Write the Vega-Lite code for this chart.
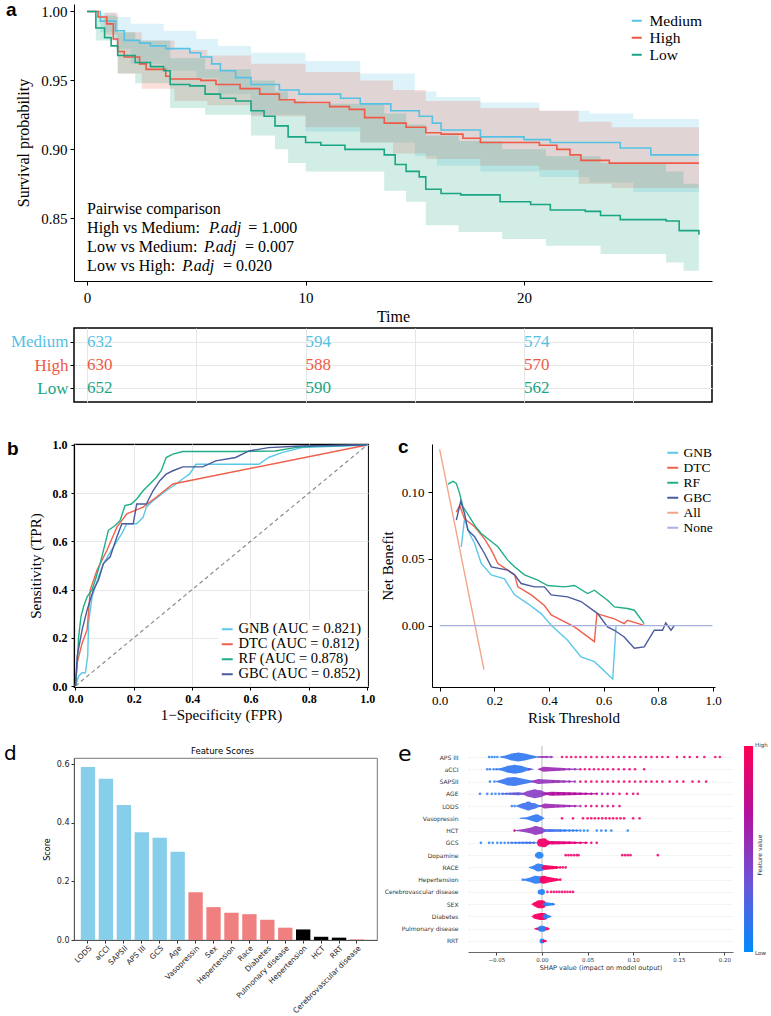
{
  "$schema": "https://vega.github.io/schema/vega-lite/v6.json",
  "padding": {"left": 3, "top": 0, "right": 0, "bottom": 0},
  "spacing": 0,
  "resolve": {"scale": {"color": "independent", "size": "independent"}, "legend": {"color": "independent", "size": "independent"}},
  "config": {
    "view": {"stroke": null},
    "axis": {"grid": false, "domainColor": "black", "tickColor": "black", "labelColor": "black", "titleColor": "black", "titleFontWeight": "normal", "labelFlush": false, "labelOverlap": false},
    "legend": {"labelOverlap": false}
  },
  "datasets": {
    "km": [
      {"grp": "Medium", "t": 0, "s": 1}, {"grp": "Medium", "t": 0.6, "s": 0.993}, {"grp": "Medium", "t": 1.3, "s": 0.986}, {"grp": "Medium", "t": 1.7, "s": 0.979},
      {"grp": "Medium", "t": 2.4, "s": 0.977}, {"grp": "Medium", "t": 2.9, "s": 0.975}, {"grp": "Medium", "t": 3.6, "s": 0.973}, {"grp": "Medium", "t": 4.7, "s": 0.97},
      {"grp": "Medium", "t": 5.2, "s": 0.967}, {"grp": "Medium", "t": 5.7, "s": 0.962}, {"grp": "Medium", "t": 6.1, "s": 0.957}, {"grp": "Medium", "t": 6.8, "s": 0.952},
      {"grp": "Medium", "t": 7.5, "s": 0.947}, {"grp": "Medium", "t": 8.8, "s": 0.943}, {"grp": "Medium", "t": 9.7, "s": 0.94}, {"grp": "Medium", "t": 11.6, "s": 0.937},
      {"grp": "Medium", "t": 12.5, "s": 0.933}, {"grp": "Medium", "t": 13.9, "s": 0.928}, {"grp": "Medium", "t": 15.2, "s": 0.924}, {"grp": "Medium", "t": 15.8, "s": 0.919},
      {"grp": "Medium", "t": 16.2, "s": 0.914}, {"grp": "Medium", "t": 18, "s": 0.909}, {"grp": "Medium", "t": 20, "s": 0.907}, {"grp": "Medium", "t": 21.2, "s": 0.905},
      {"grp": "Medium", "t": 24.4, "s": 0.901}, {"grp": "Medium", "t": 25.8, "s": 0.896}, {"grp": "Medium", "t": 28, "s": 0.896},
      {"grp": "High", "t": 0, "s": 1}, {"grp": "High", "t": 0.5, "s": 0.996}, {"grp": "High", "t": 0.9, "s": 0.991}, {"grp": "High", "t": 1.2, "s": 0.98},
      {"grp": "High", "t": 1.4, "s": 0.971}, {"grp": "High", "t": 1.7, "s": 0.967}, {"grp": "High", "t": 2.4, "s": 0.962}, {"grp": "High", "t": 2.7, "s": 0.958},
      {"grp": "High", "t": 3.6, "s": 0.953}, {"grp": "High", "t": 3.8, "s": 0.951}, {"grp": "High", "t": 5.2, "s": 0.95}, {"grp": "High", "t": 5.9, "s": 0.947},
      {"grp": "High", "t": 7, "s": 0.944}, {"grp": "High", "t": 7.9, "s": 0.94}, {"grp": "High", "t": 8.8, "s": 0.936}, {"grp": "High", "t": 9.5, "s": 0.934},
      {"grp": "High", "t": 11.1, "s": 0.931}, {"grp": "High", "t": 12, "s": 0.929}, {"grp": "High", "t": 12.7, "s": 0.923}, {"grp": "High", "t": 13.6, "s": 0.919},
      {"grp": "High", "t": 14.6, "s": 0.916}, {"grp": "High", "t": 15.5, "s": 0.912}, {"grp": "High", "t": 16.2, "s": 0.911}, {"grp": "High", "t": 17.2, "s": 0.908},
      {"grp": "High", "t": 18, "s": 0.905}, {"grp": "High", "t": 20.7, "s": 0.903}, {"grp": "High", "t": 21.5, "s": 0.9}, {"grp": "High", "t": 22.1, "s": 0.896},
      {"grp": "High", "t": 22.6, "s": 0.892}, {"grp": "High", "t": 23.9, "s": 0.89}, {"grp": "High", "t": 28, "s": 0.89},
      {"grp": "Low", "t": 0, "s": 1}, {"grp": "Low", "t": 0.4, "s": 0.988}, {"grp": "Low", "t": 0.8, "s": 0.981}, {"grp": "Low", "t": 1.1, "s": 0.975},
      {"grp": "Low", "t": 1.4, "s": 0.968}, {"grp": "Low", "t": 2.2, "s": 0.963}, {"grp": "Low", "t": 2.9, "s": 0.96}, {"grp": "Low", "t": 3.5, "s": 0.957},
      {"grp": "Low", "t": 3.8, "s": 0.947}, {"grp": "Low", "t": 4.7, "s": 0.946}, {"grp": "Low", "t": 5.4, "s": 0.94}, {"grp": "Low", "t": 6.1, "s": 0.937},
      {"grp": "Low", "t": 6.8, "s": 0.935}, {"grp": "Low", "t": 7.5, "s": 0.928}, {"grp": "Low", "t": 8.1, "s": 0.924}, {"grp": "Low", "t": 8.6, "s": 0.917},
      {"grp": "Low", "t": 9.2, "s": 0.909}, {"grp": "Low", "t": 10, "s": 0.905}, {"grp": "Low", "t": 10.7, "s": 0.903}, {"grp": "Low", "t": 11.8, "s": 0.9},
      {"grp": "Low", "t": 13.6, "s": 0.896}, {"grp": "Low", "t": 14.1, "s": 0.889}, {"grp": "Low", "t": 14.6, "s": 0.884}, {"grp": "Low", "t": 15.2, "s": 0.88},
      {"grp": "Low", "t": 15.5, "s": 0.871}, {"grp": "Low", "t": 16.2, "s": 0.868}, {"grp": "Low", "t": 17.1, "s": 0.867}, {"grp": "Low", "t": 18.9, "s": 0.862},
      {"grp": "Low", "t": 20.3, "s": 0.86}, {"grp": "Low", "t": 21.2, "s": 0.856}, {"grp": "Low", "t": 22.8, "s": 0.855}, {"grp": "Low", "t": 23.5, "s": 0.852},
      {"grp": "Low", "t": 24.4, "s": 0.849}, {"grp": "Low", "t": 26.5, "s": 0.848}, {"grp": "Low", "t": 27.1, "s": 0.841}, {"grp": "Low", "t": 28, "s": 0.838}
    ],
    "kmci": [
      {"grp": "Medium", "t": 0, "lo": 1, "hi": 1}, {"grp": "Medium", "t": 0.6, "lo": 0.985, "hi": 0.999}, {"grp": "Medium", "t": 1.3, "lo": 0.973, "hi": 0.996},
      {"grp": "Medium", "t": 2, "lo": 0.962, "hi": 0.991}, {"grp": "Medium", "t": 3.5, "lo": 0.957, "hi": 0.986}, {"grp": "Medium", "t": 5, "lo": 0.952, "hi": 0.98},
      {"grp": "Medium", "t": 6, "lo": 0.94, "hi": 0.975}, {"grp": "Medium", "t": 7.5, "lo": 0.925, "hi": 0.97}, {"grp": "Medium", "t": 10, "lo": 0.913, "hi": 0.964},
      {"grp": "Medium", "t": 12.5, "lo": 0.905, "hi": 0.955}, {"grp": "Medium", "t": 15, "lo": 0.895, "hi": 0.942}, {"grp": "Medium", "t": 16, "lo": 0.888, "hi": 0.938},
      {"grp": "Medium", "t": 18, "lo": 0.884, "hi": 0.934}, {"grp": "Medium", "t": 20.7, "lo": 0.88, "hi": 0.928}, {"grp": "Medium", "t": 23, "lo": 0.876, "hi": 0.926},
      {"grp": "Medium", "t": 25, "lo": 0.869, "hi": 0.922}, {"grp": "Medium", "t": 28, "lo": 0.867, "hi": 0.919},
      {"grp": "High", "t": 0, "lo": 1, "hi": 1}, {"grp": "High", "t": 0.8, "lo": 0.983, "hi": 0.999}, {"grp": "High", "t": 1.4, "lo": 0.955, "hi": 0.985},
      {"grp": "High", "t": 2.5, "lo": 0.944, "hi": 0.979}, {"grp": "High", "t": 4, "lo": 0.935, "hi": 0.972}, {"grp": "High", "t": 5.5, "lo": 0.932, "hi": 0.968},
      {"grp": "High", "t": 7.5, "lo": 0.924, "hi": 0.962}, {"grp": "High", "t": 10, "lo": 0.916, "hi": 0.956}, {"grp": "High", "t": 12.5, "lo": 0.905, "hi": 0.95},
      {"grp": "High", "t": 14, "lo": 0.897, "hi": 0.943}, {"grp": "High", "t": 15.5, "lo": 0.893, "hi": 0.935}, {"grp": "High", "t": 18, "lo": 0.888, "hi": 0.93},
      {"grp": "High", "t": 20.7, "lo": 0.885, "hi": 0.928}, {"grp": "High", "t": 22.5, "lo": 0.875, "hi": 0.92}, {"grp": "High", "t": 24, "lo": 0.872, "hi": 0.916},
      {"grp": "High", "t": 28, "lo": 0.869, "hi": 0.914},
      {"grp": "Low", "t": 0, "lo": 1, "hi": 1}, {"grp": "Low", "t": 0.4, "lo": 0.979, "hi": 0.997}, {"grp": "Low", "t": 1.4, "lo": 0.955, "hi": 0.985},
      {"grp": "Low", "t": 2.2, "lo": 0.948, "hi": 0.979}, {"grp": "Low", "t": 3.8, "lo": 0.93, "hi": 0.966}, {"grp": "Low", "t": 5.4, "lo": 0.925, "hi": 0.958},
      {"grp": "Low", "t": 7.5, "lo": 0.91, "hi": 0.95}, {"grp": "Low", "t": 8.6, "lo": 0.9, "hi": 0.942}, {"grp": "Low", "t": 9.2, "lo": 0.89, "hi": 0.935},
      {"grp": "Low", "t": 10, "lo": 0.884, "hi": 0.933}, {"grp": "Low", "t": 13.6, "lo": 0.87, "hi": 0.926}, {"grp": "Low", "t": 14.6, "lo": 0.862, "hi": 0.918},
      {"grp": "Low", "t": 15.5, "lo": 0.845, "hi": 0.91}, {"grp": "Low", "t": 17, "lo": 0.84, "hi": 0.906}, {"grp": "Low", "t": 19, "lo": 0.835, "hi": 0.9},
      {"grp": "Low", "t": 21, "lo": 0.83, "hi": 0.895}, {"grp": "Low", "t": 23.5, "lo": 0.824, "hi": 0.89}, {"grp": "Low", "t": 26.5, "lo": 0.818, "hi": 0.884},
      {"grp": "Low", "t": 27.3, "lo": 0.812, "hi": 0.875}, {"grp": "Low", "t": 28, "lo": 0.81, "hi": 0.868}
    ],
    "risk": [
      {"grp": "Medium", "t": 0, "n": 632}, {"grp": "Medium", "t": 10, "n": 594}, {"grp": "Medium", "t": 20, "n": 574},
      {"grp": "High", "t": 0, "n": 630}, {"grp": "High", "t": 10, "n": 588}, {"grp": "High", "t": 20, "n": 570},
      {"grp": "Low", "t": 0, "n": 652}, {"grp": "Low", "t": 10, "n": 590}, {"grp": "Low", "t": 20, "n": 562}
    ],
    "roc": [
      {"m": "GNB", "fpr": 0, "tpr": 0}, {"m": "GNB", "fpr": 0.011, "tpr": 0.041}, {"m": "GNB", "fpr": 0.023, "tpr": 0.055}, {"m": "GNB", "fpr": 0.034, "tpr": 0.055},
      {"m": "GNB", "fpr": 0.042, "tpr": 0.124}, {"m": "GNB", "fpr": 0.045, "tpr": 0.261}, {"m": "GNB", "fpr": 0.057, "tpr": 0.371}, {"m": "GNB", "fpr": 0.079, "tpr": 0.453},
      {"m": "GNB", "fpr": 0.096, "tpr": 0.508}, {"m": "GNB", "fpr": 0.13, "tpr": 0.577}, {"m": "GNB", "fpr": 0.159, "tpr": 0.632}, {"m": "GNB", "fpr": 0.176, "tpr": 0.673},
      {"m": "GNB", "fpr": 0.21, "tpr": 0.673}, {"m": "GNB", "fpr": 0.232, "tpr": 0.7}, {"m": "GNB", "fpr": 0.243, "tpr": 0.742}, {"m": "GNB", "fpr": 0.266, "tpr": 0.769},
      {"m": "GNB", "fpr": 0.311, "tpr": 0.81}, {"m": "GNB", "fpr": 0.345, "tpr": 0.838}, {"m": "GNB", "fpr": 0.374, "tpr": 0.865}, {"m": "GNB", "fpr": 0.391, "tpr": 0.879},
      {"m": "GNB", "fpr": 0.413, "tpr": 0.92}, {"m": "GNB", "fpr": 0.629, "tpr": 0.92}, {"m": "GNB", "fpr": 0.662, "tpr": 0.948}, {"m": "GNB", "fpr": 0.708, "tpr": 0.968},
      {"m": "GNB", "fpr": 0.776, "tpr": 0.989}, {"m": "GNB", "fpr": 1, "tpr": 1},
      {"m": "DTC", "fpr": 0, "tpr": 0}, {"m": "DTC", "fpr": 0.006, "tpr": 0.096}, {"m": "DTC", "fpr": 0.023, "tpr": 0.179}, {"m": "DTC", "fpr": 0.04, "tpr": 0.234},
      {"m": "DTC", "fpr": 0.051, "tpr": 0.4}, {"m": "DTC", "fpr": 0.074, "tpr": 0.481}, {"m": "DTC", "fpr": 0.108, "tpr": 0.563}, {"m": "DTC", "fpr": 0.142, "tpr": 0.659},
      {"m": "DTC", "fpr": 0.176, "tpr": 0.714}, {"m": "DTC", "fpr": 0.232, "tpr": 0.742}, {"m": "DTC", "fpr": 0.277, "tpr": 0.783}, {"m": "DTC", "fpr": 0.334, "tpr": 0.838},
      {"m": "DTC", "fpr": 1, "tpr": 1},
      {"m": "RF", "fpr": 0, "tpr": 0}, {"m": "RF", "fpr": 0.006, "tpr": 0.096}, {"m": "RF", "fpr": 0.011, "tpr": 0.206}, {"m": "RF", "fpr": 0.019, "tpr": 0.288},
      {"m": "RF", "fpr": 0.028, "tpr": 0.33}, {"m": "RF", "fpr": 0.04, "tpr": 0.37}, {"m": "RF", "fpr": 0.057, "tpr": 0.4}, {"m": "RF", "fpr": 0.068, "tpr": 0.44},
      {"m": "RF", "fpr": 0.085, "tpr": 0.51}, {"m": "RF", "fpr": 0.096, "tpr": 0.563}, {"m": "RF", "fpr": 0.113, "tpr": 0.646}, {"m": "RF", "fpr": 0.136, "tpr": 0.666},
      {"m": "RF", "fpr": 0.153, "tpr": 0.687}, {"m": "RF", "fpr": 0.17, "tpr": 0.749}, {"m": "RF", "fpr": 0.192, "tpr": 0.755}, {"m": "RF", "fpr": 0.21, "tpr": 0.776},
      {"m": "RF", "fpr": 0.232, "tpr": 0.81}, {"m": "RF", "fpr": 0.255, "tpr": 0.838}, {"m": "RF", "fpr": 0.277, "tpr": 0.865}, {"m": "RF", "fpr": 0.294, "tpr": 0.893},
      {"m": "RF", "fpr": 0.311, "tpr": 0.948}, {"m": "RF", "fpr": 0.334, "tpr": 0.962}, {"m": "RF", "fpr": 0.368, "tpr": 0.973}, {"m": "RF", "fpr": 0.549, "tpr": 0.973},
      {"m": "RF", "fpr": 0.685, "tpr": 0.975}, {"m": "RF", "fpr": 0.753, "tpr": 0.989}, {"m": "RF", "fpr": 0.82, "tpr": 0.996}, {"m": "RF", "fpr": 1, "tpr": 1},
      {"m": "GBC", "fpr": 0, "tpr": 0}, {"m": "GBC", "fpr": 0.006, "tpr": 0.124}, {"m": "GBC", "fpr": 0.023, "tpr": 0.234}, {"m": "GBC", "fpr": 0.04, "tpr": 0.316},
      {"m": "GBC", "fpr": 0.062, "tpr": 0.4}, {"m": "GBC", "fpr": 0.079, "tpr": 0.44}, {"m": "GBC", "fpr": 0.096, "tpr": 0.508}, {"m": "GBC", "fpr": 0.119, "tpr": 0.536},
      {"m": "GBC", "fpr": 0.142, "tpr": 0.618}, {"m": "GBC", "fpr": 0.159, "tpr": 0.673}, {"m": "GBC", "fpr": 0.198, "tpr": 0.673}, {"m": "GBC", "fpr": 0.21, "tpr": 0.755},
      {"m": "GBC", "fpr": 0.243, "tpr": 0.755}, {"m": "GBC", "fpr": 0.266, "tpr": 0.81}, {"m": "GBC", "fpr": 0.289, "tpr": 0.852}, {"m": "GBC", "fpr": 0.311, "tpr": 0.879},
      {"m": "GBC", "fpr": 0.334, "tpr": 0.893}, {"m": "GBC", "fpr": 0.368, "tpr": 0.909}, {"m": "GBC", "fpr": 0.436, "tpr": 0.909}, {"m": "GBC", "fpr": 0.481, "tpr": 0.934},
      {"m": "GBC", "fpr": 0.549, "tpr": 0.948}, {"m": "GBC", "fpr": 0.595, "tpr": 0.975}, {"m": "GBC", "fpr": 0.662, "tpr": 0.989}, {"m": "GBC", "fpr": 0.776, "tpr": 0.996},
      {"m": "GBC", "fpr": 1, "tpr": 1}
    ],
    "dca": [
      {"m": "GNB", "thr": 0.079, "nb": 0.059}, {"m": "GNB", "thr": 0.091, "nb": 0.08}, {"m": "GNB", "thr": 0.109, "nb": 0.069}, {"m": "GNB", "thr": 0.128, "nb": 0.0615},
      {"m": "GNB", "thr": 0.152, "nb": 0.0465}, {"m": "GNB", "thr": 0.189, "nb": 0.038}, {"m": "GNB", "thr": 0.237, "nb": 0.035}, {"m": "GNB", "thr": 0.274, "nb": 0.023},
      {"m": "GNB", "thr": 0.322, "nb": 0.0165}, {"m": "GNB", "thr": 0.371, "nb": 0.009}, {"m": "GNB", "thr": 0.408, "nb": 0.0003}, {"m": "GNB", "thr": 0.468, "nb": -0.011},
      {"m": "GNB", "thr": 0.517, "nb": -0.0235}, {"m": "GNB", "thr": 0.566, "nb": -0.027}, {"m": "GNB", "thr": 0.633, "nb": -0.04}, {"m": "GNB", "thr": 0.645, "nb": -0.0005},
      {"m": "DTC", "thr": 0.061, "nb": 0.085}, {"m": "DTC", "thr": 0.073, "nb": 0.09}, {"m": "DTC", "thr": 0.091, "nb": 0.08}, {"m": "DTC", "thr": 0.128, "nb": 0.074},
      {"m": "DTC", "thr": 0.164, "nb": 0.065}, {"m": "DTC", "thr": 0.189, "nb": 0.0565}, {"m": "DTC", "thr": 0.213, "nb": 0.0465}, {"m": "DTC", "thr": 0.249, "nb": 0.0415},
      {"m": "DTC", "thr": 0.274, "nb": 0.038}, {"m": "DTC", "thr": 0.286, "nb": 0.029}, {"m": "DTC", "thr": 0.335, "nb": 0.023}, {"m": "DTC", "thr": 0.383, "nb": 0.015},
      {"m": "DTC", "thr": 0.408, "nb": 0.008}, {"m": "DTC", "thr": 0.493, "nb": -0.001}, {"m": "DTC", "thr": 0.566, "nb": -0.012}, {"m": "DTC", "thr": 0.575, "nb": 0.009},
      {"m": "DTC", "thr": 0.639, "nb": 0.005}, {"m": "DTC", "thr": 0.675, "nb": 0.0015}, {"m": "DTC", "thr": 0.687, "nb": 0.004}, {"m": "DTC", "thr": 0.748, "nb": 0.0002},
      {"m": "RF", "thr": 0.03, "nb": 0.106}, {"m": "RF", "thr": 0.049, "nb": 0.108}, {"m": "RF", "thr": 0.061, "nb": 0.1065}, {"m": "RF", "thr": 0.073, "nb": 0.099},
      {"m": "RF", "thr": 0.085, "nb": 0.089}, {"m": "RF", "thr": 0.103, "nb": 0.0835}, {"m": "RF", "thr": 0.128, "nb": 0.075}, {"m": "RF", "thr": 0.152, "nb": 0.069},
      {"m": "RF", "thr": 0.176, "nb": 0.065}, {"m": "RF", "thr": 0.213, "nb": 0.059}, {"m": "RF", "thr": 0.249, "nb": 0.049}, {"m": "RF", "thr": 0.274, "nb": 0.044},
      {"m": "RF", "thr": 0.31, "nb": 0.038}, {"m": "RF", "thr": 0.359, "nb": 0.034}, {"m": "RF", "thr": 0.395, "nb": 0.03}, {"m": "RF", "thr": 0.456, "nb": 0.029},
      {"m": "RF", "thr": 0.493, "nb": 0.03}, {"m": "RF", "thr": 0.541, "nb": 0.024}, {"m": "RF", "thr": 0.566, "nb": 0.0265}, {"m": "RF", "thr": 0.614, "nb": 0.019},
      {"m": "RF", "thr": 0.639, "nb": 0.014}, {"m": "RF", "thr": 0.687, "nb": 0.0128}, {"m": "RF", "thr": 0.712, "nb": 0.0115}, {"m": "RF", "thr": 0.748, "nb": 0.0015},
      {"m": "GBC", "thr": 0.061, "nb": 0.079}, {"m": "GBC", "thr": 0.077, "nb": 0.093}, {"m": "GBC", "thr": 0.091, "nb": 0.084}, {"m": "GBC", "thr": 0.103, "nb": 0.0715},
      {"m": "GBC", "thr": 0.128, "nb": 0.0665}, {"m": "GBC", "thr": 0.164, "nb": 0.054}, {"m": "GBC", "thr": 0.189, "nb": 0.044}, {"m": "GBC", "thr": 0.249, "nb": 0.0415},
      {"m": "GBC", "thr": 0.274, "nb": 0.038}, {"m": "GBC", "thr": 0.298, "nb": 0.0315}, {"m": "GBC", "thr": 0.347, "nb": 0.029}, {"m": "GBC", "thr": 0.383, "nb": 0.029},
      {"m": "GBC", "thr": 0.408, "nb": 0.023}, {"m": "GBC", "thr": 0.468, "nb": 0.0215}, {"m": "GBC", "thr": 0.517, "nb": 0.018}, {"m": "GBC", "thr": 0.578, "nb": 0.009},
      {"m": "GBC", "thr": 0.614, "nb": -0.001}, {"m": "GBC", "thr": 0.639, "nb": -0.0035}, {"m": "GBC", "thr": 0.675, "nb": -0.0085}, {"m": "GBC", "thr": 0.712, "nb": -0.017},
      {"m": "GBC", "thr": 0.748, "nb": -0.016}, {"m": "GBC", "thr": 0.785, "nb": -0.0035}, {"m": "GBC", "thr": 0.815, "nb": -0.0035}, {"m": "GBC", "thr": 0.827, "nb": 0.002},
      {"m": "GBC", "thr": 0.846, "nb": -0.0035}, {"m": "GBC", "thr": 0.858, "nb": 0},
      {"m": "All", "thr": 0, "nb": 0.132}, {"m": "All", "thr": 0.162, "nb": -0.033},
      {"m": "None", "thr": 0, "nb": 0}, {"m": "None", "thr": 0.998, "nb": 0}
    ],
    "scores": [
      {"feature": "LODS", "score": 0.59, "grp": "a"}, {"feature": "aCCI", "score": 0.55, "grp": "a"}, {"feature": "SAPSII", "score": 0.46, "grp": "a"},
      {"feature": "APS III", "score": 0.367, "grp": "a"}, {"feature": "GCS", "score": 0.349, "grp": "a"}, {"feature": "Age", "score": 0.301, "grp": "a"},
      {"feature": "Vasopressin", "score": 0.163, "grp": "b"}, {"feature": "Sex", "score": 0.112, "grp": "b"}, {"feature": "Hepertension", "score": 0.093, "grp": "b"},
      {"feature": "Race", "score": 0.088, "grp": "b"}, {"feature": "Diabetes", "score": 0.069, "grp": "b"}, {"feature": "Pulmonary disease", "score": 0.042, "grp": "b"},
      {"feature": "Hepertension ", "score": 0.036, "grp": "c"}, {"feature": "HCT", "score": 0.011, "grp": "c"}, {"feature": "RRT", "score": 0.008, "grp": "c"},
      {"feature": "Cerebrovascular disease", "score": 0.002, "grp": "b"}
    ],
    "shapcore": [
      {"c": "1a", "f": "APS III", "s": -0.046, "d": 0, "v": 0.1}, {"c": "1a", "f": "APS III", "s": -0.04, "d": 3, "v": 0.1}, {"c": "1a", "f": "APS III", "s": -0.033, "d": 7, "v": 0.1},
      {"c": "1a", "f": "APS III", "s": -0.026, "d": 9, "v": 0.1}, {"c": "1a", "f": "APS III", "s": -0.019, "d": 7, "v": 0.1}, {"c": "1a", "f": "APS III", "s": -0.012, "d": 4, "v": 0.1},
      {"c": "1a", "f": "APS III", "s": -0.006, "d": 1.5, "v": 0.1}, {"c": "1a", "f": "APS III", "s": -0.002, "d": 0, "v": 0.1},
      {"c": "1b", "f": "APS III", "s": -0.004, "d": 0, "v": 0.55}, {"c": "1b", "f": "APS III", "s": 0, "d": 2, "v": 0.55}, {"c": "1b", "f": "APS III", "s": 0.006, "d": 1.5, "v": 0.55}, {"c": "1b", "f": "APS III", "s": 0.012, "d": 0, "v": 0.55},
      {"c": "2a", "f": "aCCI", "s": -0.05, "d": 0, "v": 0.1}, {"c": "2a", "f": "aCCI", "s": -0.044, "d": 3, "v": 0.1}, {"c": "2a", "f": "aCCI", "s": -0.037, "d": 7, "v": 0.1},
      {"c": "2a", "f": "aCCI", "s": -0.03, "d": 9, "v": 0.1}, {"c": "2a", "f": "aCCI", "s": -0.023, "d": 7, "v": 0.1}, {"c": "2a", "f": "aCCI", "s": -0.016, "d": 3, "v": 0.1}, {"c": "2a", "f": "aCCI", "s": -0.01, "d": 0, "v": 0.1},
      {"c": "2b", "f": "aCCI", "s": -0.004, "d": 0, "v": 0.55}, {"c": "2b", "f": "aCCI", "s": 0.002, "d": 5, "v": 0.55}, {"c": "2b", "f": "aCCI", "s": 0.01, "d": 4, "v": 0.55},
      {"c": "2b", "f": "aCCI", "s": 0.02, "d": 3, "v": 0.55}, {"c": "2b", "f": "aCCI", "s": 0.03, "d": 1.5, "v": 0.55}, {"c": "2b", "f": "aCCI", "s": 0.04, "d": 0, "v": 0.55},
      {"c": "3a", "f": "SAPSII", "s": -0.05, "d": 0, "v": 0.12}, {"c": "3a", "f": "SAPSII", "s": -0.044, "d": 4, "v": 0.12}, {"c": "3a", "f": "SAPSII", "s": -0.037, "d": 8, "v": 0.12},
      {"c": "3a", "f": "SAPSII", "s": -0.03, "d": 9, "v": 0.12}, {"c": "3a", "f": "SAPSII", "s": -0.022, "d": 6, "v": 0.12}, {"c": "3a", "f": "SAPSII", "s": -0.014, "d": 3, "v": 0.12}, {"c": "3a", "f": "SAPSII", "s": -0.008, "d": 0, "v": 0.12},
      {"c": "3b", "f": "SAPSII", "s": -0.012, "d": 0, "v": 0.5}, {"c": "3b", "f": "SAPSII", "s": -0.004, "d": 5, "v": 0.5}, {"c": "3b", "f": "SAPSII", "s": 0.004, "d": 4, "v": 0.5},
      {"c": "3b", "f": "SAPSII", "s": 0.015, "d": 3, "v": 0.5}, {"c": "3b", "f": "SAPSII", "s": 0.025, "d": 2, "v": 0.5}, {"c": "3b", "f": "SAPSII", "s": 0.035, "d": 0, "v": 0.5},
      {"c": "4a", "f": "AGE", "s": -0.045, "d": 0, "v": 0.3}, {"c": "4a", "f": "AGE", "s": -0.035, "d": 2, "v": 0.3}, {"c": "4a", "f": "AGE", "s": -0.025, "d": 3, "v": 0.3}, {"c": "4a", "f": "AGE", "s": -0.018, "d": 0, "v": 0.3},
      {"c": "4b", "f": "AGE", "s": -0.022, "d": 0, "v": 0.45}, {"c": "4b", "f": "AGE", "s": -0.015, "d": 6, "v": 0.45}, {"c": "4b", "f": "AGE", "s": -0.008, "d": 9, "v": 0.45},
      {"c": "4b", "f": "AGE", "s": -0.002, "d": 7, "v": 0.45}, {"c": "4b", "f": "AGE", "s": 0.004, "d": 3, "v": 0.45}, {"c": "4b", "f": "AGE", "s": 0.01, "d": 0, "v": 0.45},
      {"c": "4c", "f": "AGE", "s": 0, "d": 0, "v": 0.65}, {"c": "4c", "f": "AGE", "s": 0.01, "d": 4, "v": 0.65}, {"c": "4c", "f": "AGE", "s": 0.02, "d": 3.5, "v": 0.65},
      {"c": "4c", "f": "AGE", "s": 0.03, "d": 3, "v": 0.65}, {"c": "4c", "f": "AGE", "s": 0.045, "d": 2, "v": 0.65}, {"c": "4c", "f": "AGE", "s": 0.06, "d": 0, "v": 0.65},
      {"c": "5a", "f": "LODS", "s": -0.028, "d": 0, "v": 0.15}, {"c": "5a", "f": "LODS", "s": -0.022, "d": 5, "v": 0.15}, {"c": "5a", "f": "LODS", "s": -0.015, "d": 9, "v": 0.15},
      {"c": "5a", "f": "LODS", "s": -0.009, "d": 6, "v": 0.15}, {"c": "5a", "f": "LODS", "s": -0.003, "d": 2, "v": 0.15}, {"c": "5a", "f": "LODS", "s": 0, "d": 0, "v": 0.15},
      {"c": "5b", "f": "LODS", "s": -0.002, "d": 0, "v": 0.55}, {"c": "5b", "f": "LODS", "s": 0.003, "d": 5, "v": 0.55}, {"c": "5b", "f": "LODS", "s": 0.01, "d": 4, "v": 0.55},
      {"c": "5b", "f": "LODS", "s": 0.02, "d": 3, "v": 0.55}, {"c": "5b", "f": "LODS", "s": 0.03, "d": 2, "v": 0.55}, {"c": "5b", "f": "LODS", "s": 0.04, "d": 0, "v": 0.55},
      {"c": "6a", "f": "Vasopressin", "s": -0.024, "d": 0, "v": 0.1}, {"c": "6a", "f": "Vasopressin", "s": -0.017, "d": 2, "v": 0.1}, {"c": "6a", "f": "Vasopressin", "s": -0.01, "d": 6, "v": 0.1},
      {"c": "6a", "f": "Vasopressin", "s": -0.006, "d": 8, "v": 0.1}, {"c": "6a", "f": "Vasopressin", "s": -0.002, "d": 5, "v": 0.1}, {"c": "6a", "f": "Vasopressin", "s": 0.002, "d": 0, "v": 0.1},
      {"c": "7a", "f": "HCT", "s": -0.028, "d": 0, "v": 0.5}, {"c": "7a", "f": "HCT", "s": -0.02, "d": 3, "v": 0.5}, {"c": "7a", "f": "HCT", "s": -0.012, "d": 6, "v": 0.5},
      {"c": "7a", "f": "HCT", "s": -0.007, "d": 9, "v": 0.5}, {"c": "7a", "f": "HCT", "s": -0.002, "d": 7, "v": 0.5}, {"c": "7a", "f": "HCT", "s": 0.003, "d": 3, "v": 0.5}, {"c": "7a", "f": "HCT", "s": 0.008, "d": 0, "v": 0.5},
      {"c": "7b", "f": "HCT", "s": 0, "d": 0, "v": 0.15}, {"c": "7b", "f": "HCT", "s": 0.008, "d": 3, "v": 0.15}, {"c": "7b", "f": "HCT", "s": 0.018, "d": 2.5, "v": 0.15},
      {"c": "7b", "f": "HCT", "s": 0.03, "d": 1.5, "v": 0.15}, {"c": "7b", "f": "HCT", "s": 0.04, "d": 0, "v": 0.15},
      {"c": "8a", "f": "GCS", "s": -0.035, "d": 0, "v": 0.15}, {"c": "8a", "f": "GCS", "s": -0.025, "d": 1.5, "v": 0.15}, {"c": "8a", "f": "GCS", "s": -0.015, "d": 2, "v": 0.15}, {"c": "8a", "f": "GCS", "s": -0.005, "d": 0, "v": 0.15},
      {"c": "8b", "f": "GCS", "s": -0.004, "d": 0, "v": 0.92}, {"c": "8b", "f": "GCS", "s": -0.001, "d": 8, "v": 0.92}, {"c": "8b", "f": "GCS", "s": 0.002, "d": 9, "v": 0.92},
      {"c": "8b", "f": "GCS", "s": 0.006, "d": 5, "v": 0.92}, {"c": "8b", "f": "GCS", "s": 0.01, "d": 0, "v": 0.92},
      {"c": "8c", "f": "GCS", "s": 0.004, "d": 0, "v": 0.85}, {"c": "8c", "f": "GCS", "s": 0.01, "d": 3.5, "v": 0.85}, {"c": "8c", "f": "GCS", "s": 0.02, "d": 3, "v": 0.85},
      {"c": "8c", "f": "GCS", "s": 0.03, "d": 2.5, "v": 0.85}, {"c": "8c", "f": "GCS", "s": 0.04, "d": 1.5, "v": 0.85}, {"c": "8c", "f": "GCS", "s": 0.05, "d": 0, "v": 0.85},
      {"c": "9a", "f": "Dopamine", "s": -0.007, "d": 0, "v": 0.05}, {"c": "9a", "f": "Dopamine", "s": -0.005, "d": 5, "v": 0.05}, {"c": "9a", "f": "Dopamine", "s": -0.003, "d": 7, "v": 0.05},
      {"c": "9a", "f": "Dopamine", "s": -0.001, "d": 5, "v": 0.05}, {"c": "9a", "f": "Dopamine", "s": 0.001, "d": 0, "v": 0.05},
      {"c": "10a", "f": "RACE", "s": -0.014, "d": 0, "v": 0.08}, {"c": "10a", "f": "RACE", "s": -0.009, "d": 4, "v": 0.08}, {"c": "10a", "f": "RACE", "s": -0.004, "d": 8, "v": 0.08},
      {"c": "10a", "f": "RACE", "s": -0.001, "d": 7, "v": 0.08}, {"c": "10a", "f": "RACE", "s": 0.001, "d": 0, "v": 0.08},
      {"c": "10b", "f": "RACE", "s": 0, "d": 0, "v": 0.95}, {"c": "10b", "f": "RACE", "s": 0.003, "d": 5, "v": 0.95}, {"c": "10b", "f": "RACE", "s": 0.008, "d": 4, "v": 0.95},
      {"c": "10b", "f": "RACE", "s": 0.014, "d": 3, "v": 0.95}, {"c": "10b", "f": "RACE", "s": 0.02, "d": 0, "v": 0.95},
      {"c": "11a", "f": "Hepertension", "s": -0.021, "d": 0, "v": 0.08}, {"c": "11a", "f": "Hepertension", "s": -0.014, "d": 4, "v": 0.08}, {"c": "11a", "f": "Hepertension", "s": -0.007, "d": 8, "v": 0.08},
      {"c": "11a", "f": "Hepertension", "s": -0.002, "d": 7, "v": 0.08}, {"c": "11a", "f": "Hepertension", "s": 0.001, "d": 0, "v": 0.08},
      {"c": "11b", "f": "Hepertension", "s": -0.001, "d": 0, "v": 0.95}, {"c": "11b", "f": "Hepertension", "s": 0.002, "d": 8, "v": 0.95}, {"c": "11b", "f": "Hepertension", "s": 0.006, "d": 6, "v": 0.95},
      {"c": "11b", "f": "Hepertension", "s": 0.012, "d": 4, "v": 0.95}, {"c": "11b", "f": "Hepertension", "s": 0.02, "d": 0, "v": 0.95},
      {"c": "12a", "f": "Cerebrovascular disease", "s": -0.004, "d": 0, "v": 0.05}, {"c": "12a", "f": "Cerebrovascular disease", "s": -0.002, "d": 5, "v": 0.05},
      {"c": "12a", "f": "Cerebrovascular disease", "s": 0, "d": 6, "v": 0.05}, {"c": "12a", "f": "Cerebrovascular disease", "s": 0.002, "d": 0, "v": 0.05},
      {"c": "13a", "f": "SEX", "s": -0.011, "d": 0, "v": 0.95}, {"c": "13a", "f": "SEX", "s": -0.007, "d": 5, "v": 0.95}, {"c": "13a", "f": "SEX", "s": -0.003, "d": 8, "v": 0.95},
      {"c": "13a", "f": "SEX", "s": 0, "d": 8, "v": 0.95}, {"c": "13a", "f": "SEX", "s": 0.003, "d": 0, "v": 0.95},
      {"c": "13b", "f": "SEX", "s": 0.001, "d": 0, "v": 0.05}, {"c": "13b", "f": "SEX", "s": 0.004, "d": 4, "v": 0.05}, {"c": "13b", "f": "SEX", "s": 0.009, "d": 3, "v": 0.05}, {"c": "13b", "f": "SEX", "s": 0.014, "d": 0, "v": 0.05},
      {"c": "14a", "f": "Diabetes", "s": -0.011, "d": 0, "v": 0.95}, {"c": "14a", "f": "Diabetes", "s": -0.007, "d": 5, "v": 0.95}, {"c": "14a", "f": "Diabetes", "s": -0.002, "d": 7, "v": 0.95},
      {"c": "14a", "f": "Diabetes", "s": 0.002, "d": 7, "v": 0.95}, {"c": "14a", "f": "Diabetes", "s": 0.004, "d": 0, "v": 0.95},
      {"c": "14b", "f": "Diabetes", "s": 0.001, "d": 0, "v": 0.05}, {"c": "14b", "f": "Diabetes", "s": 0.004, "d": 5, "v": 0.05}, {"c": "14b", "f": "Diabetes", "s": 0.007, "d": 3, "v": 0.05}, {"c": "14b", "f": "Diabetes", "s": 0.01, "d": 0, "v": 0.05},
      {"c": "15a", "f": "Pulmonary disease", "s": -0.008, "d": 0, "v": 0.95}, {"c": "15a", "f": "Pulmonary disease", "s": -0.004, "d": 3, "v": 0.95}, {"c": "15a", "f": "Pulmonary disease", "s": 0.002, "d": 4, "v": 0.95},
      {"c": "15a", "f": "Pulmonary disease", "s": 0.006, "d": 3, "v": 0.95}, {"c": "15a", "f": "Pulmonary disease", "s": 0.008, "d": 0, "v": 0.95},
      {"c": "15b", "f": "Pulmonary disease", "s": -0.003, "d": 0, "v": 0.05}, {"c": "15b", "f": "Pulmonary disease", "s": -0.001, "d": 6, "v": 0.05},
      {"c": "15b", "f": "Pulmonary disease", "s": 0.001, "d": 6, "v": 0.05}, {"c": "15b", "f": "Pulmonary disease", "s": 0.003, "d": 0, "v": 0.05},
      {"c": "16a", "f": "RRT", "s": -0.002, "d": 0, "v": 0.05}, {"c": "16a", "f": "RRT", "s": 0, "d": 5, "v": 0.05}, {"c": "16a", "f": "RRT", "s": 0.002, "d": 0, "v": 0.05},
      {"c": "16b", "f": "RRT", "s": 0, "d": 0, "v": 0.95}, {"c": "16b", "f": "RRT", "s": 0.002, "d": 3, "v": 0.95}, {"c": "16b", "f": "RRT", "s": 0.004, "d": 2, "v": 0.95}, {"c": "16b", "f": "RRT", "s": 0.005, "d": 0, "v": 0.95}
    ],
    "shappts": [
      {"f": "APS III", "s": -0.058, "v": 0.05}, {"f": "APS III", "s": -0.055, "v": 0.05}, {"f": "APS III", "s": -0.052, "v": 0.05}, {"f": "APS III", "s": -0.049, "v": 0.05},
      {"f": "APS III", "s": 0.005, "v": 0.5}, {"f": "APS III", "s": 0.01, "v": 0.5},
      {"f": "APS III", "s": 0.022, "v": 0.9}, {"f": "APS III", "s": 0.027, "v": 0.9}, {"f": "APS III", "s": 0.032, "v": 0.9}, {"f": "APS III", "s": 0.037, "v": 0.9},
      {"f": "APS III", "s": 0.042, "v": 0.9}, {"f": "APS III", "s": 0.048, "v": 0.9}, {"f": "APS III", "s": 0.054, "v": 0.9}, {"f": "APS III", "s": 0.06, "v": 0.9},
      {"f": "APS III", "s": 0.066, "v": 0.9}, {"f": "APS III", "s": 0.072, "v": 0.9}, {"f": "APS III", "s": 0.078, "v": 0.9}, {"f": "APS III", "s": 0.084, "v": 0.9},
      {"f": "APS III", "s": 0.09, "v": 0.9}, {"f": "APS III", "s": 0.096, "v": 0.9}, {"f": "APS III", "s": 0.102, "v": 0.9}, {"f": "APS III", "s": 0.108, "v": 0.9},
      {"f": "APS III", "s": 0.114, "v": 0.9}, {"f": "APS III", "s": 0.12, "v": 0.9}, {"f": "APS III", "s": 0.126, "v": 0.9}, {"f": "APS III", "s": 0.132, "v": 0.9},
      {"f": "APS III", "s": 0.138, "v": 0.9}, {"f": "APS III", "s": 0.148, "v": 0.9}, {"f": "APS III", "s": 0.156, "v": 0.9}, {"f": "APS III", "s": 0.162, "v": 0.9},
      {"f": "APS III", "s": 0.17, "v": 0.9}, {"f": "APS III", "s": 0.178, "v": 0.9}, {"f": "APS III", "s": 0.19, "v": 0.9}, {"f": "APS III", "s": 0.195, "v": 0.9},
      {"f": "aCCI", "s": -0.06, "v": 0.1}, {"f": "aCCI", "s": -0.057, "v": 0.1}, {"f": "aCCI", "s": -0.053, "v": 0.1}, {"f": "aCCI", "s": -0.05, "v": 0.1},
      {"f": "aCCI", "s": -0.014, "v": 0.5}, {"f": "aCCI", "s": 0.012, "v": 0.5}, {"f": "aCCI", "s": 0.018, "v": 0.5}, {"f": "aCCI", "s": 0.024, "v": 0.5},
      {"f": "aCCI", "s": 0.03, "v": 0.5}, {"f": "aCCI", "s": 0.036, "v": 0.5},
      {"f": "aCCI", "s": 0.042, "v": 0.85}, {"f": "aCCI", "s": 0.047, "v": 0.85}, {"f": "aCCI", "s": 0.052, "v": 0.85}, {"f": "aCCI", "s": 0.057, "v": 0.85},
      {"f": "aCCI", "s": 0.062, "v": 0.85}, {"f": "aCCI", "s": 0.067, "v": 0.85}, {"f": "aCCI", "s": 0.072, "v": 0.85}, {"f": "aCCI", "s": 0.078, "v": 0.85},
      {"f": "aCCI", "s": 0.084, "v": 0.85}, {"f": "aCCI", "s": 0.09, "v": 0.85}, {"f": "aCCI", "s": 0.096, "v": 0.85}, {"f": "aCCI", "s": 0.102, "v": 0.85}, {"f": "aCCI", "s": 0.112, "v": 0.85},
      {"f": "SAPSII", "s": -0.057, "v": 0.1}, {"f": "SAPSII", "s": -0.052, "v": 0.1},
      {"f": "SAPSII", "s": 0.012, "v": 0.55}, {"f": "SAPSII", "s": 0.018, "v": 0.55}, {"f": "SAPSII", "s": 0.024, "v": 0.55}, {"f": "SAPSII", "s": 0.03, "v": 0.55}, {"f": "SAPSII", "s": 0.036, "v": 0.55},
      {"f": "SAPSII", "s": 0.042, "v": 0.88}, {"f": "SAPSII", "s": 0.048, "v": 0.88}, {"f": "SAPSII", "s": 0.054, "v": 0.88}, {"f": "SAPSII", "s": 0.06, "v": 0.88},
      {"f": "SAPSII", "s": 0.066, "v": 0.88}, {"f": "SAPSII", "s": 0.072, "v": 0.88}, {"f": "SAPSII", "s": 0.078, "v": 0.88}, {"f": "SAPSII", "s": 0.084, "v": 0.88},
      {"f": "SAPSII", "s": 0.09, "v": 0.88}, {"f": "SAPSII", "s": 0.096, "v": 0.88}, {"f": "SAPSII", "s": 0.102, "v": 0.88}, {"f": "SAPSII", "s": 0.108, "v": 0.88},
      {"f": "SAPSII", "s": 0.114, "v": 0.88}, {"f": "SAPSII", "s": 0.12, "v": 0.88}, {"f": "SAPSII", "s": 0.126, "v": 0.88}, {"f": "SAPSII", "s": 0.132, "v": 0.88},
      {"f": "SAPSII", "s": 0.14, "v": 0.88}, {"f": "SAPSII", "s": 0.148, "v": 0.88}, {"f": "SAPSII", "s": 0.155, "v": 0.88}, {"f": "SAPSII", "s": 0.165, "v": 0.88},
      {"f": "SAPSII", "s": 0.172, "v": 0.88}, {"f": "SAPSII", "s": 0.18, "v": 0.88},
      {"f": "AGE", "s": -0.068, "v": 0.1}, {"f": "AGE", "s": -0.06, "v": 0.1}, {"f": "AGE", "s": -0.055, "v": 0.1}, {"f": "AGE", "s": -0.051, "v": 0.1},
      {"f": "AGE", "s": -0.047, "v": 0.1}, {"f": "AGE", "s": -0.043, "v": 0.1}, {"f": "AGE", "s": -0.039, "v": 0.2}, {"f": "AGE", "s": -0.035, "v": 0.2},
      {"f": "AGE", "s": -0.031, "v": 0.3}, {"f": "AGE", "s": -0.027, "v": 0.3},
      {"f": "AGE", "s": 0.012, "v": 0.7}, {"f": "AGE", "s": 0.018, "v": 0.7}, {"f": "AGE", "s": 0.024, "v": 0.7}, {"f": "AGE", "s": 0.03, "v": 0.7},
      {"f": "AGE", "s": 0.036, "v": 0.7}, {"f": "AGE", "s": 0.042, "v": 0.7}, {"f": "AGE", "s": 0.048, "v": 0.7}, {"f": "AGE", "s": 0.054, "v": 0.7},
      {"f": "AGE", "s": 0.06, "v": 0.7}, {"f": "AGE", "s": 0.066, "v": 0.7}, {"f": "AGE", "s": 0.072, "v": 0.7},
      {"f": "AGE", "s": 0.078, "v": 0.85}, {"f": "AGE", "s": 0.085, "v": 0.85}, {"f": "AGE", "s": 0.093, "v": 0.85}, {"f": "AGE", "s": 0.1, "v": 0.85}, {"f": "AGE", "s": 0.105, "v": 0.85},
      {"f": "LODS", "s": -0.033, "v": 0.1}, {"f": "LODS", "s": -0.03, "v": 0.1},
      {"f": "LODS", "s": 0.012, "v": 0.55}, {"f": "LODS", "s": 0.018, "v": 0.55}, {"f": "LODS", "s": 0.024, "v": 0.55}, {"f": "LODS", "s": 0.03, "v": 0.55},
      {"f": "LODS", "s": 0.036, "v": 0.6}, {"f": "LODS", "s": 0.042, "v": 0.6},
      {"f": "LODS", "s": 0.048, "v": 0.8}, {"f": "LODS", "s": 0.054, "v": 0.8}, {"f": "LODS", "s": 0.06, "v": 0.8}, {"f": "LODS", "s": 0.066, "v": 0.8},
      {"f": "LODS", "s": 0.072, "v": 0.8}, {"f": "LODS", "s": 0.078, "v": 0.8}, {"f": "LODS", "s": 0.085, "v": 0.8},
      {"f": "Vasopressin", "s": 0.022, "v": 0.92}, {"f": "Vasopressin", "s": 0.034, "v": 0.92}, {"f": "Vasopressin", "s": 0.045, "v": 0.92}, {"f": "Vasopressin", "s": 0.05, "v": 0.92},
      {"f": "Vasopressin", "s": 0.054, "v": 0.92}, {"f": "Vasopressin", "s": 0.058, "v": 0.92}, {"f": "Vasopressin", "s": 0.062, "v": 0.92}, {"f": "Vasopressin", "s": 0.066, "v": 0.92},
      {"f": "Vasopressin", "s": 0.07, "v": 0.92}, {"f": "Vasopressin", "s": 0.074, "v": 0.92}, {"f": "Vasopressin", "s": 0.078, "v": 0.92}, {"f": "Vasopressin", "s": 0.082, "v": 0.92},
      {"f": "Vasopressin", "s": 0.086, "v": 0.92}, {"f": "Vasopressin", "s": 0.09, "v": 0.92}, {"f": "Vasopressin", "s": 0.1, "v": 0.92}, {"f": "Vasopressin", "s": 0.107, "v": 0.92},
      {"f": "HCT", "s": -0.03, "v": 0.7},
      {"f": "HCT", "s": 0.02, "v": 0.05}, {"f": "HCT", "s": 0.025, "v": 0.05}, {"f": "HCT", "s": 0.03, "v": 0.05}, {"f": "HCT", "s": 0.034, "v": 0.05},
      {"f": "HCT", "s": 0.038, "v": 0.05}, {"f": "HCT", "s": 0.042, "v": 0.05}, {"f": "HCT", "s": 0.046, "v": 0.05}, {"f": "HCT", "s": 0.05, "v": 0.05},
      {"f": "HCT", "s": 0.06, "v": 0.05}, {"f": "HCT", "s": 0.065, "v": 0.05}, {"f": "HCT", "s": 0.07, "v": 0.05}, {"f": "HCT", "s": 0.076, "v": 0.05}, {"f": "HCT", "s": 0.094, "v": 0.05},
      {"f": "GCS", "s": -0.067, "v": 0.05}, {"f": "GCS", "s": -0.058, "v": 0.05}, {"f": "GCS", "s": -0.054, "v": 0.05}, {"f": "GCS", "s": -0.049, "v": 0.05},
      {"f": "GCS", "s": -0.045, "v": 0.05}, {"f": "GCS", "s": -0.041, "v": 0.05}, {"f": "GCS", "s": -0.037, "v": 0.1}, {"f": "GCS", "s": -0.033, "v": 0.1},
      {"f": "GCS", "s": -0.029, "v": 0.1}, {"f": "GCS", "s": -0.025, "v": 0.1}, {"f": "GCS", "s": -0.021, "v": 0.15}, {"f": "GCS", "s": -0.017, "v": 0.15},
      {"f": "GCS", "s": -0.013, "v": 0.2}, {"f": "GCS", "s": -0.009, "v": 0.2},
      {"f": "GCS", "s": 0.012, "v": 0.85}, {"f": "GCS", "s": 0.018, "v": 0.85}, {"f": "GCS", "s": 0.024, "v": 0.85}, {"f": "GCS", "s": 0.03, "v": 0.85},
      {"f": "GCS", "s": 0.036, "v": 0.85}, {"f": "GCS", "s": 0.042, "v": 0.85}, {"f": "GCS", "s": 0.048, "v": 0.85}, {"f": "GCS", "s": 0.054, "v": 0.85}, {"f": "GCS", "s": 0.06, "v": 0.85},
      {"f": "Dopamine", "s": 0.026, "v": 0.9}, {"f": "Dopamine", "s": 0.029, "v": 0.9}, {"f": "Dopamine", "s": 0.032, "v": 0.9}, {"f": "Dopamine", "s": 0.035, "v": 0.9},
      {"f": "Dopamine", "s": 0.038, "v": 0.9}, {"f": "Dopamine", "s": 0.04, "v": 0.9}, {"f": "Dopamine", "s": 0.088, "v": 0.9}, {"f": "Dopamine", "s": 0.091, "v": 0.9},
      {"f": "Dopamine", "s": 0.094, "v": 0.9}, {"f": "Dopamine", "s": 0.097, "v": 0.9}, {"f": "Dopamine", "s": 0.127, "v": 0.9},
      {"f": "RACE", "s": 0.012, "v": 0.95}, {"f": "RACE", "s": 0.016, "v": 0.95}, {"f": "RACE", "s": 0.02, "v": 0.95}, {"f": "RACE", "s": 0.023, "v": 0.95}, {"f": "RACE", "s": 0.026, "v": 0.95},
      {"f": "Hepertension", "s": -0.021, "v": 0.1}, {"f": "Hepertension", "s": 0.016, "v": 0.95}, {"f": "Hepertension", "s": 0.02, "v": 0.95},
      {"f": "Cerebrovascular disease", "s": 0.006, "v": 0.9}, {"f": "Cerebrovascular disease", "s": 0.01, "v": 0.9}, {"f": "Cerebrovascular disease", "s": 0.013, "v": 0.9},
      {"f": "Cerebrovascular disease", "s": 0.016, "v": 0.9}, {"f": "Cerebrovascular disease", "s": 0.019, "v": 0.9}, {"f": "Cerebrovascular disease", "s": 0.022, "v": 0.9},
      {"f": "Cerebrovascular disease", "s": 0.025, "v": 0.9}, {"f": "Cerebrovascular disease", "s": 0.028, "v": 0.9}, {"f": "Cerebrovascular disease", "s": 0.031, "v": 0.9},
      {"f": "Cerebrovascular disease", "s": 0.034, "v": 0.9},
      {"f": "SEX", "s": 0.012, "v": 0.05}
    ]
  },
  "vconcat": [
    {
      "width": 638,
      "height": 277,
      "resolve": {"legend": {"color": "independent"}},
      "layer": [
        {
          "data": {"name": "kmci"},
          "mark": {"type": "area", "interpolate": "step-after", "opacity": 0.2},
          "encoding": {
            "x": {"field": "t", "type": "quantitative", "scale": {"domain": [-0.6, 28.6], "nice": false, "zero": false},
                  "axis": {"values": [0, 10, 20], "title": "Time", "labelFont": "Liberation Serif", "titleFont": "Liberation Serif", "labelFontSize": 15, "titleFontSize": 16, "tickSize": 4, "labelPadding": 5, "titlePadding": 3}},
            "y": {"field": "lo", "type": "quantitative", "scale": {"domain": [0.8045, 1.0054], "nice": false, "zero": false},
                  "axis": {"values": [0.85, 0.9, 0.95, 1], "format": ".2f", "title": "Survival probability", "labelFont": "Liberation Serif", "titleFont": "Liberation Serif", "labelFontSize": 15, "titleFontSize": 16, "tickSize": 4, "labelPadding": 3, "titlePadding": 9}},
            "y2": {"field": "hi"},
            "color": {"field": "grp", "type": "nominal", "scale": {"domain": ["Medium", "High", "Low"], "range": ["#55c1e3", "#ee5a45", "#1aa583"]}, "legend": null}
          }
        },
        {
          "data": {"name": "km"},
          "mark": {"type": "line", "interpolate": "step-after", "strokeWidth": 1.6},
          "encoding": {
            "x": {"field": "t", "type": "quantitative"},
            "y": {"field": "s", "type": "quantitative"},
            "color": {"field": "grp", "type": "nominal",
                      "legend": {"title": null, "orient": "top-right", "offset": 9, "symbolType": "stroke", "symbolStrokeWidth": 2, "symbolSize": 100, "symbolOpacity": 1, "labelFont": "Liberation Serif", "labelFontSize": 15.5, "rowPadding": 0, "labelOffset": 5, "padding": 0}}
          }
        },
        {
          "data": {"values": [
            {"t": 0, "s": 0.857, "label": "Pairwise comparison"},
            {"t": 0, "s": 0.843, "label": "High vs Medium:"},
            {"t": 0, "s": 0.829, "label": "Low vs Medium:"},
            {"t": 0, "s": 0.8155, "label": "Low vs High:"},
            {"t": 7.37, "s": 0.843, "label": "= 1.000"},
            {"t": 7.23, "s": 0.829, "label": "= 0.007"},
            {"t": 6.22, "s": 0.8155, "label": "= 0.020"}
          ]},
          "mark": {"type": "text", "align": "left", "baseline": "middle", "font": "Liberation Serif", "fontSize": 16, "color": "black"},
          "encoding": {"x": {"field": "t", "type": "quantitative"}, "y": {"field": "s", "type": "quantitative"}, "text": {"field": "label"}}
        },
        {
          "data": {"values": [
            {"t": 5.58, "s": 0.843, "label": "P.adj"},
            {"t": 5.35, "s": 0.829, "label": "P.adj"},
            {"t": 4.35, "s": 0.8155, "label": "P.adj"}
          ]},
          "mark": {"type": "text", "align": "left", "baseline": "middle", "font": "Liberation Serif", "fontSize": 16, "fontStyle": "italic", "color": "black"},
          "encoding": {"x": {"field": "t", "type": "quantitative"}, "y": {"field": "s", "type": "quantitative"}, "text": {"field": "label"}}
        },
        {
          "data": {"values": [{}]},
          "mark": {"type": "text", "text": "a", "align": "left", "baseline": "alphabetic", "dx": -68, "dy": 12, "font": "Liberation Sans", "fontSize": 19, "fontWeight": "bold", "color": "black"},
          "encoding": {"x": {"datum": -0.6}, "y": {"datum": 1.0054}}
        },
        {
          "data": {"values": [{}]},
          "mark": {"type": "rule", "opacity": 0},
          "encoding": {"x": {"datum": -3.804}, "y": {"datum": 1.0076}, "y2": {"datum": 0.7717}}
        }
      ]
    },
    {
      "width": 638,
      "height": 74,
      "view": {"stroke": "black", "strokeWidth": 1.5},
      "layer": [
        {
          "data": {"name": "risk"},
          "mark": {"type": "text", "align": "left", "baseline": "middle", "font": "Liberation Serif", "fontSize": 17},
          "encoding": {
            "x": {"field": "t", "type": "quantitative", "scale": {"domain": [-0.6, 28.6], "nice": false, "zero": false},
                  "axis": {"values": [0, 5, 10, 15, 20, 25], "grid": true, "gridColor": "#e6e6e6", "labels": false, "ticks": false, "domain": false, "title": null}},
            "y": {"field": "grp", "type": "nominal", "sort": ["Medium", "High", "Low"], "scale": {"padding": 0.6},
                  "axis": {"title": null, "grid": true, "gridColor": "#e6e6e6", "domain": false, "tickSize": 4, "labelPadding": 2, "labelFont": "Liberation Serif", "labelFontSize": 17,
                           "labelColor": {"condition": [{"test": "datum.value == 'Medium'", "value": "#55c1e3"}, {"test": "datum.value == 'High'", "value": "#ee5a45"}], "value": "#1aa583"}}},
            "text": {"field": "n", "type": "quantitative"},
            "color": {"field": "grp", "type": "nominal", "scale": {"domain": ["Medium", "High", "Low"], "range": ["#55c1e3", "#ee5a45", "#1aa583"]}, "legend": null}
          }
        },
        {
          "data": {"values": [{}]},
          "mark": {"type": "text", "text": " ", "align": "left", "opacity": 0},
          "encoding": {"x": {"datum": -3.804}, "y": {"datum": "Medium"}}
        }
      ]
    },
    {
      "resolve": {"scale": {"color": "independent"}, "legend": {"color": "independent"}},
      "hconcat": [
        {
          "width": 294,
          "height": 243,
          "view": {"stroke": "black", "strokeWidth": 1.2},
          "layer": [
            {
              "data": {"values": [{"fpr": 0, "tpr": 0}, {"fpr": 1, "tpr": 1}]},
              "mark": {"type": "line", "color": "#8c8c8c", "strokeDash": [4, 3], "strokeWidth": 1.2},
              "encoding": {
                "x": {"field": "fpr", "type": "quantitative", "scale": {"domain": [-0.005, 1.003], "nice": false, "zero": false},
                      "axis": {"values": [0, 0.1, 0.2, 0.3, 0.4, 0.5, 0.6, 0.7, 0.8, 0.9, 1], "labelExpr": "round(datum.value*10) % 2 == 1 ? '' : format(datum.value, '.1f')",
                               "tickOpacity": {"condition": {"test": "round(datum.value*10) % 2 == 1", "value": 0}, "value": 1},
                               "grid": true, "gridColor": "#e8e8e8", "title": "1−Specificity (FPR)", "labelFont": "Liberation Serif", "titleFont": "Liberation Serif", "labelFontSize": 12, "labelFontWeight": "bold", "titleFontSize": 15, "tickSize": 3, "labelPadding": 3, "titlePadding": 3}},
                "y": {"field": "tpr", "type": "quantitative", "scale": {"domain": [-0.004, 1.004], "nice": false, "zero": false},
                      "axis": {"values": [0, 0.1, 0.2, 0.3, 0.4, 0.5, 0.6, 0.7, 0.8, 0.9, 1], "labelExpr": "round(datum.value*10) % 2 == 1 ? '' : format(datum.value, '.1f')",
                               "tickOpacity": {"condition": {"test": "round(datum.value*10) % 2 == 1", "value": 0}, "value": 1},
                               "grid": true, "gridColor": "#e8e8e8", "title": "Sensitivity (TPR)", "labelFont": "Liberation Serif", "titleFont": "Liberation Serif", "labelFontSize": 12, "labelFontWeight": "bold", "titleFontSize": 15, "tickSize": 3, "labelPadding": 4, "titlePadding": 9}}
              }
            },
            {
              "data": {"name": "roc"},
              "mark": {"type": "line", "strokeWidth": 1.4},
              "encoding": {
                "x": {"field": "fpr", "type": "quantitative"},
                "y": {"field": "tpr", "type": "quantitative"},
                "color": {"field": "m", "type": "nominal", "scale": {"domain": ["GNB", "DTC", "RF", "GBC"], "range": ["#5bc8e8", "#f0604d", "#1fae88", "#4a5a9c"]},
                          "legend": {"title": null, "orient": "bottom-right", "offset": 4, "symbolType": "stroke", "symbolStrokeWidth": 2, "symbolSize": 120, "labelFont": "Liberation Serif", "labelFontSize": 14.5, "rowPadding": 0, "labelOffset": 4, "fillColor": "white", "padding": 2, "labelLimit": 300,
                                     "labelExpr": "datum.label == 'GNB' ? 'GNB (AUC = 0.821)' : datum.label == 'DTC' ? 'DTC (AUC = 0.812)' : datum.label == 'RF' ? 'RF (AUC = 0.878)' : 'GBC (AUC = 0.852)'"}}
              }
            },
            {
              "data": {"values": [{}]},
              "mark": {"type": "text", "text": "b", "align": "left", "baseline": "alphabetic", "dx": -67, "dy": 11, "font": "Liberation Sans", "fontSize": 19, "fontWeight": "bold", "color": "black"},
              "encoding": {"x": {"datum": -0.005}, "y": {"datum": 1.004}}
            },
            {
              "data": {"values": [{}]},
              "mark": {"type": "rule", "opacity": 0},
              "encoding": {"x": {"datum": -0.245}, "y": {"datum": 1.171}, "y2": {"datum": -0.2197}}
            }
          ]
        },
        {
          "width": 283,
          "height": 243,
          "layer": [
            {
              "data": {"name": "dca"},
              "mark": {"type": "line", "strokeWidth": 1.4},
              "encoding": {
                "x": {"field": "thr", "type": "quantitative", "scale": {"domain": [-0.028, 1.007], "nice": false, "zero": false},
                      "axis": {"values": [0, 0.2, 0.4, 0.6, 0.8, 1], "format": ".1f", "title": "Risk Threshold", "labelFont": "Liberation Serif", "titleFont": "Liberation Serif", "labelFontSize": 13, "titleFontSize": 15, "tickSize": 4, "labelPadding": 3, "titlePadding": 3}},
                "y": {"field": "nb", "type": "quantitative", "scale": {"domain": [-0.046, 0.136], "nice": false, "zero": false},
                      "axis": {"values": [0, 0.05, 0.1], "format": ".2f", "title": "Net Benefit", "labelFont": "Liberation Serif", "titleFont": "Liberation Serif", "labelFontSize": 13, "titleFontSize": 15, "tickSize": 4, "labelPadding": 4, "titlePadding": 6}},
                "color": {"field": "m", "type": "nominal", "scale": {"domain": ["GNB", "DTC", "RF", "GBC", "All", "None"], "range": ["#5bc8e8", "#f0604d", "#1fae88", "#4a5a9c", "#f3a58c", "#a8b2e0"]},
                          "legend": {"title": null, "orient": "top-right", "offset": 2, "symbolType": "stroke", "symbolStrokeWidth": 2, "symbolSize": 120, "labelFont": "Liberation Serif", "labelFontSize": 13.5, "rowPadding": 0, "labelOffset": 4, "padding": 0}}
              }
            },
            {
              "data": {"values": [{}]},
              "mark": {"type": "text", "text": "c", "align": "left", "baseline": "alphabetic", "dx": -34, "dy": 9, "font": "Liberation Sans", "fontSize": 19, "fontWeight": "bold", "color": "black"},
              "encoding": {"x": {"datum": -0.028}, "y": {"datum": 0.136}}
            }
          ]
        }
      ],
      "spacing": 64,
      "bounds": "flush"
    },
    {
      "resolve": {"scale": {"color": "independent"}, "legend": {"color": "independent"}},
      "hconcat": [
        {
          "width": 303,
          "height": 182,
          "view": {"stroke": "#555555", "strokeWidth": 0.8},
          "layer": [
            {
              "data": {"name": "scores"},
              "mark": {"type": "bar"},
              "encoding": {
                "x": {"field": "feature", "type": "nominal", "sort": null, "scale": {"paddingInner": 0.2, "paddingOuter": 0.548, "align": 0.347},
                      "axis": {"title": null, "labelAngle": -45, "labelAlign": "right", "labelBaseline": "top", "labelFont": "DejaVu Sans", "labelFontSize": 7.5, "labelPadding": 1, "tickSize": 3, "domainColor": "#555555", "tickColor": "#333333", "labelColor": "#222222"}},
                "y": {"field": "score", "type": "quantitative", "scale": {"domain": [0, 0.6205], "nice": false},
                      "axis": {"values": [0, 0.1, 0.2, 0.3, 0.4, 0.5, 0.6], "format": ".1f", "title": "Score", "labelFont": "DejaVu Sans", "labelFontSize": 8, "titleFont": "DejaVu Sans", "titleFontSize": 8, "tickSize": 3, "labelPadding": 2, "titlePadding": 5, "domainColor": "#555555", "tickColor": "#333333", "labelColor": "#222222"}},
                "color": {"field": "grp", "type": "nominal", "scale": {"domain": ["a", "b", "c"], "range": ["#87ceeb", "#f08080", "#000000"]}, "legend": null}
              }
            },
            {
              "data": {"values": [{}]},
              "mark": {"type": "text", "text": "Feature Scores", "align": "center", "baseline": "middle", "dx": 9, "dy": -7, "font": "DejaVu Sans", "fontSize": 8.5, "color": "black"},
              "encoding": {"x": {"datum": "Sex"}, "y": {"datum": 0.6205}}
            },
            {
              "data": {"values": [{}]},
              "mark": {"type": "text", "text": "d", "align": "left", "baseline": "alphabetic", "dx": -84, "dy": 2, "font": "DejaVu Sans", "fontSize": 20, "color": "black"},
              "encoding": {"x": {"datum": "LODS"}, "y": {"datum": 0.6205}}
            }
          ]
        },
        {
          "width": 265,
          "height": 206,
          "layer": [
            {
              "data": {"values": [{}]},
              "mark": {"type": "rule", "color": "#aaaaaa", "strokeWidth": 0.8},
              "encoding": {"x": {"datum": 0}}
            },
            {
              "data": {"name": "shapcore"},
              "mark": {"type": "trail", "opacity": 0.95},
              "encoding": {
                "x": {"field": "s", "type": "quantitative", "scale": {"domain": [-0.0811, 0.2094], "nice": false, "zero": false},
                      "axis": {"values": [-0.05, 0, 0.05, 0.1, 0.15, 0.2], "format": ".2f", "title": "SHAP value (impact on model output)", "labelFont": "DejaVu Sans", "labelFontSize": 5.5, "titleFont": "DejaVu Sans", "titleFontSize": 6.5, "tickSize": 3, "domainColor": "#444444", "tickColor": "#444444", "labelColor": "#333333", "titleColor": "#333333", "labelPadding": 2, "titlePadding": 2, "domainWidth": 0.8}},
                "y": {"field": "f", "type": "nominal",
                      "sort": ["APS III", "aCCI", "SAPSII", "AGE", "LODS", "Vasopressin", "HCT", "GCS", "Dopamine", "RACE", "Hepertension", "Cerebrovascular disease", "SEX", "Diabetes", "Pulmonary disease", "RRT"],
                      "scale": {"type": "point", "padding": 0.9},
                      "axis": {"title": null, "domain": false, "ticks": false, "labelFont": "DejaVu Sans", "labelFontSize": 6, "labelColor": "#333333", "labelPadding": 10, "grid": true, "gridColor": "#dddddd", "gridDash": [2, 2], "gridWidth": 0.6}},
                "detail": {"field": "c", "type": "nominal"},
                "size": {"field": "d", "type": "quantitative", "scale": {"domain": [0, 10], "range": [0, 10]}, "legend": null},
                "color": {"field": "v", "type": "quantitative", "scale": {"domain": [0, 0.33, 0.67, 1], "range": ["#008bfb", "#6a56d8", "#b3109d", "#ff0052"]}, "legend": null}
              }
            },
            {
              "data": {"name": "shappts"},
              "mark": {"type": "circle", "size": 7, "opacity": 0.85},
              "encoding": {
                "x": {"field": "s", "type": "quantitative"},
                "y": {"field": "f", "type": "nominal",
                      "sort": ["APS III", "aCCI", "SAPSII", "AGE", "LODS", "Vasopressin", "HCT", "GCS", "Dopamine", "RACE", "Hepertension", "Cerebrovascular disease", "SEX", "Diabetes", "Pulmonary disease", "RRT"]},
                "color": {"field": "v", "type": "quantitative", "legend": null}
              }
            },
            {
              "data": {"values": [{}]},
              "mark": {"type": "rect", "color": {"gradient": "linear", "x1": 0, "y1": 1, "x2": 0, "y2": 0,
                                                   "stops": [{"offset": 0, "color": "#008bfb"}, {"offset": 0.33, "color": "#6a56d8"}, {"offset": 0.67, "color": "#b3109d"}, {"offset": 1, "color": "#ff0052"}]}},
              "encoding": {"x": {"datum": 0.2215}, "x2": {"datum": 0.2314}}
            },
            {
              "data": {"values": [{}]},
              "mark": {"type": "text", "text": "High", "align": "left", "baseline": "middle", "dx": 2, "dy": -12, "font": "DejaVu Sans", "fontSize": 5.5, "color": "#333333"},
              "encoding": {"x": {"datum": 0.2314}, "y": {"datum": "APS III"}}
            },
            {
              "data": {"values": [{}]},
              "mark": {"type": "text", "text": "Low", "align": "left", "baseline": "middle", "dx": 2, "dy": 12, "font": "DejaVu Sans", "fontSize": 5.5, "color": "#333333"},
              "encoding": {"x": {"datum": 0.2314}, "y": {"datum": "RRT"}}
            },
            {
              "data": {"values": [{}]},
              "mark": {"type": "text", "text": "Feature value", "align": "center", "baseline": "middle", "angle": 270, "dx": 0, "dy": -6, "font": "DejaVu Sans", "fontSize": 6, "color": "#333333"},
              "encoding": {"x": {"datum": 0.2458}, "y": {"datum": "Dopamine"}}
            },
            {
              "data": {"values": [{}]},
              "mark": {"type": "text", "text": "e", "align": "left", "baseline": "alphabetic", "dx": -70, "dy": 4, "font": "DejaVu Sans", "fontSize": 22, "color": "black"},
              "encoding": {"x": {"datum": -0.0811}, "y": {"datum": "APS III"}}
            },
            {
              "data": {"values": [{}]},
              "mark": {"type": "text", "text": " ", "align": "left", "baseline": "top", "dy": -17, "opacity": 0},
              "encoding": {"x": {"datum": 0}, "y": {"datum": "APS III"}}
            }
          ]
        }
      ],
      "spacing": 91,
      "bounds": "flush",
      "center": true
    }
  ]
}
